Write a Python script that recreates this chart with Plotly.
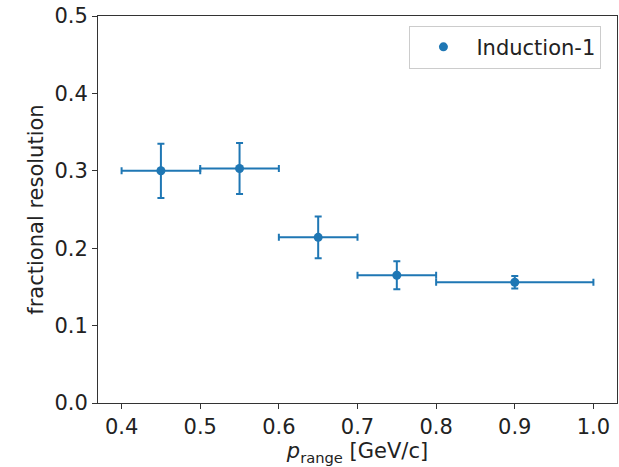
import plotly.graph_objects as go

# Momentum bin centres and half-widths [GeV/c]
p_centres = [0.45, 0.55, 0.65, 0.75, 0.90]
p_halfwidth = [0.05, 0.05, 0.05, 0.05, 0.10]

# Fractional resolution per bin and its uncertainty
resolution = [0.300, 0.303, 0.214, 0.165, 0.156]
resolution_err = [0.035, 0.033, 0.027, 0.018, 0.008]

series_name = "Induction-1"
x_ticks = [0.4, 0.5, 0.6, 0.7, 0.8, 0.9, 1.0]
y_ticks = [0.0, 0.1, 0.2, 0.3, 0.4, 0.5]

blue = "#1f77b4"
font_family = "DejaVu Sans, Verdana, sans-serif"
fsize = 21

fig = go.Figure()
fig.add_trace(go.Scatter(
    x=p_centres,
    y=resolution,
    mode="markers",
    name=series_name,
    marker=dict(color=blue, size=9),
    error_x=dict(type="data", array=p_halfwidth, color=blue, thickness=2, width=3.5),
    error_y=dict(type="data", array=resolution_err, color=blue, thickness=2, width=3.5),
    showlegend=True,
))

axis_common = dict(
    showgrid=False,
    zeroline=False,
    showline=True,
    linecolor="#333333",
    linewidth=1,
    mirror=True,
    ticks="outside",
    ticklen=5,
    tickwidth=1,
    tickcolor="#333333",
    tickformat=".1f",
    tickfont=dict(size=fsize, color="#222222", family=font_family),
)

fig.update_layout(
    width=619,
    height=467,
    margin=dict(l=98, r=2, t=16, b=64),
    paper_bgcolor="white",
    plot_bgcolor="white",
    font=dict(family=font_family, color="#222222", size=fsize),
    xaxis=dict(
        range=[0.37, 1.03],
        tickvals=x_ticks,
        title=dict(text="<i>p</i><sub>range</sub> [GeV/c]", font=dict(size=fsize), standoff=4),
        **axis_common,
    ),
    yaxis=dict(
        range=[0.0, 0.5],
        tickvals=y_ticks,
        title=dict(text="fractional resolution", font=dict(size=fsize), standoff=5),
        **axis_common,
    ),
    legend=dict(
        x=0.97,
        y=0.975,
        xanchor="right",
        yanchor="top",
        bgcolor="rgba(255,255,255,0.8)",
        bordercolor="#cccccc",
        borderwidth=1,
        font=dict(size=fsize, family=font_family, color="#222222"),
        itemwidth=56,
    ),
)

fig.write_html("out.html")
